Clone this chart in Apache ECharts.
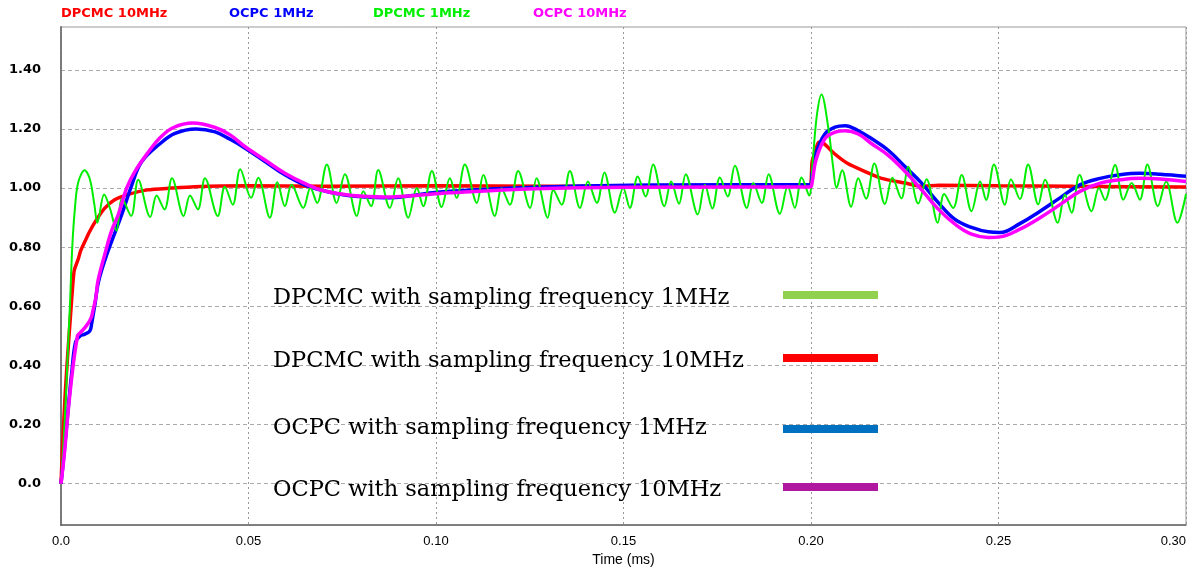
<!DOCTYPE html>
<html><head><meta charset="utf-8">
<script src="https://cdn.jsdelivr.net/npm/echarts@6/dist/echarts.min.js"></script>
<style>html,body{margin:0;padding:0;background:#fff}#c{width:1195px;height:572px}</style>
</head><body><div id="c"></div>
<script>
// ---- tick labels ----
const xTickValues = [0, 0.05, 0.10, 0.15, 0.20, 0.25, 0.30];
const xTickLabels = ['0.0', '0.05', '0.10', '0.15', '0.20', '0.25', '0.30'];
const yTickValues = [0, 0.2, 0.4, 0.6, 0.8, 1.0, 1.2, 1.4];
const yTickLabels = ['0.0', '0.20', '0.40', '0.60', '0.80', '1.00', '1.20', '1.40'];
const xAxisTitle = 'Time (ms)';

// ---- series names ----
const topLegendNames = ['DPCMC 10MHz', 'OCPC 1MHz', 'DPCMC 1MHz', 'OCPC 10MHz'];
const noteLabels = [
  'DPCMC with sampling frequency 1MHz',
  'DPCMC with sampling frequency 10MHz',
  'OCPC with sampling frequency 1MHz',
  'OCPC with sampling frequency 10MHz'
];

// ---- series values: [time (ms), value] ----
const dpcmc10MHz = [
  [0,0],[0.0005,0.15],[0.0011,0.30],[0.0017,0.42],[0.0026,0.58],[0.0035,0.72],[0.0046,0.76],
  [0.0053,0.79],[0.0064,0.82],[0.0075,0.85],[0.0093,0.89],[0.0115,0.93],[0.0142,0.96],
  [0.0178,0.978],[0.0231,0.994],[0.0293,1.0],[0.0355,1.005],[0.0499,1.008],[0.07,1.006],
  [0.10,1.008],[0.13,1.006],[0.16,1.007],[0.1995,1.006],[0.2003,1.09],[0.2013,1.13],
  [0.2020,1.155],[0.2035,1.15],[0.2062,1.117],[0.2098,1.083],[0.2144,1.056],[0.2188,1.033],
  [0.2251,1.017],[0.2295,1.006],[0.2340,1.010],[0.25,1.008],[0.27,1.006],[0.30,1.004]
];
const ocpc1MHz = [
  [0,0],[0.0008,0.10],[0.0021,0.28],[0.0029,0.38],[0.0039,0.48],[0.0051,0.50],[0.0064,0.506],
  [0.0077,0.517],[0.0082,0.544],[0.0091,0.611],[0.0099,0.678],[0.0117,0.756],[0.0139,0.833],
  [0.0162,0.911],[0.0189,1.011],[0.0215,1.089],[0.0264,1.15],[0.0304,1.185],[0.036,1.20],
  [0.0411,1.19],[0.0451,1.165],[0.0491,1.135],[0.0544,1.09],[0.0597,1.045],[0.0651,1.01],
  [0.0704,0.99],[0.0776,0.973],[0.0864,0.967],[0.1011,0.987],[0.1264,1.003],[0.1517,1.01],
  [0.1998,1.012],[0.2003,1.05],[0.2013,1.117],[0.2037,1.183],[0.2064,1.206],[0.2091,1.211],
  [0.2126,1.194],[0.2162,1.167],[0.2206,1.128],[0.2251,1.072],[0.2295,1.017],[0.2340,0.95],
  [0.2384,0.894],[0.2428,0.867],[0.2473,0.852],[0.2504,0.85],[0.2557,0.88],[0.2611,0.922],
  [0.2664,0.967],[0.2717,1.011],[0.2771,1.033],[0.2824,1.045],[0.2877,1.05],[0.2931,1.047],
  [0.30,1.04]
];
const dpcmc1MHz = [
  [0,0],[0.0011,0.24],[0.0019,0.47],[0.0024,0.61],[0.0030,0.80],[0.0037,0.93],[0.0046,1.02],
  [0.0063,1.06],[0.0077,1.03],[0.0089,0.944],[0.0097,0.883],[0.0115,0.978],[0.0131,0.93],
  [0.0148,0.856],[0.0163,0.965],[0.0187,0.906],[0.0206,1.028],[0.0238,0.902],[0.0255,0.975],
  [0.0276,0.928],[0.0296,1.033],[0.0327,0.906],[0.0344,0.975],[0.0365,0.928],[0.0384,1.033],
  [0.0418,0.906],[0.0437,1.005],[0.0458,0.944],[0.0478,1.064],[0.0507,0.967],[0.0526,1.035],
  [0.0557,0.90],[0.0577,1.02],[0.0597,0.939],[0.0615,1.011],[0.0646,0.933],[0.0665,1.0],
  [0.0683,0.95],[0.0709,1.08],[0.0735,0.95],[0.0757,1.047],[0.0789,0.906],[0.0806,0.989],
  [0.0827,0.939],[0.0846,1.061],[0.0877,0.933],[0.0899,1.033],[0.0926,0.90],[0.0949,1.0],
  [0.0966,0.939],[0.0989,1.058],[0.1015,0.936],[0.1037,1.033],[0.1055,0.967],[0.1077,1.08],
  [0.1109,0.95],[0.1126,1.044],[0.1157,0.906],[0.1175,0.999],[0.1197,0.944],[0.1219,1.058],
  [0.1251,0.933],[0.1268,1.033],[0.1298,0.90],[0.1313,0.994],[0.1335,0.944],[0.1357,1.058],
  [0.1384,0.933],[0.1405,1.022],[0.1429,0.95],[0.1449,1.053],[0.1477,0.917],[0.1499,1.0],
  [0.1517,0.933],[0.1538,1.039],[0.1559,0.972],[0.1579,1.08],[0.1609,0.939],[0.1627,1.022],
  [0.1648,0.947],[0.1666,1.047],[0.1698,0.911],[0.1717,1.011],[0.1737,0.931],[0.1757,1.036],
  [0.1778,0.972],[0.1797,1.076],[0.1829,0.933],[0.1846,1.017],[0.1869,0.95],[0.1887,1.047],
  [0.1917,0.913],[0.1938,1.006],[0.1957,0.933],[0.1975,1.036],[0.1995,0.975],[0.2005,1.10],
  [0.2016,1.25],[0.2028,1.317],[0.2046,1.205],[0.2059,1.072],[0.2068,1.0],[0.2083,1.06],
  [0.2107,0.937],[0.2126,1.033],[0.2147,0.964],[0.2169,1.083],[0.2197,0.946],[0.2217,1.035],
  [0.2241,0.965],[0.2259,1.072],[0.2286,0.948],[0.2308,1.03],[0.2338,0.883],[0.2355,0.98],
  [0.2379,0.933],[0.2402,1.044],[0.2428,0.922],[0.2451,1.022],[0.2467,0.96],[0.2488,1.08],
  [0.2517,0.944],[0.2533,1.03],[0.2557,0.963],[0.2579,1.08],[0.2606,0.945],[0.2624,1.028],
  [0.2658,0.883],[0.2677,0.978],[0.2695,0.917],[0.2716,1.044],[0.2748,0.922],[0.2768,1.0],
  [0.2784,0.96],[0.2811,1.078],[0.2833,0.961],[0.2855,1.017],[0.2877,0.961],[0.2897,1.08],
  [0.2925,0.939],[0.2947,1.022],[0.2977,0.883],[0.30,0.98]
];
const ocpc10MHz = [
  [0,0],[0.0008,0.09],[0.0026,0.33],[0.0044,0.50],[0.0051,0.51],[0.0067,0.533],[0.0080,0.56],
  [0.0086,0.59],[0.0093,0.63],[0.0099,0.689],[0.0122,0.80],[0.0135,0.856],[0.0153,0.911],
  [0.0175,1.0],[0.0197,1.056],[0.0233,1.122],[0.0264,1.17],[0.0300,1.205],[0.0352,1.22],
  [0.0411,1.205],[0.0451,1.18],[0.0491,1.14],[0.0544,1.095],[0.0597,1.05],[0.0651,1.015],
  [0.0704,0.99],[0.0776,0.975],[0.0864,0.97],[0.1011,0.982],[0.1264,0.998],[0.1517,1.003],
  [0.1998,1.004],[0.2003,1.02],[0.2013,1.094],[0.2037,1.167],[0.2064,1.189],[0.2091,1.194],
  [0.2126,1.183],[0.2162,1.15],[0.2206,1.111],[0.2251,1.056],[0.2295,0.994],[0.2340,0.928],
  [0.2384,0.878],[0.2428,0.844],[0.2473,0.833],[0.2504,0.835],[0.2557,0.861],[0.2611,0.90],
  [0.2664,0.944],[0.2717,0.989],[0.2771,1.017],[0.2824,1.028],[0.2877,1.033],[0.2931,1.031],
  [0.30,1.022]
];

const seriesColors = ['#ff0000', '#0000ff', '#00ee00', '#ff00ff'];
const noteColors = ['#92d050', '#ff0000', '#0070c0', '#b0189f'];

const chart = echarts.init(document.getElementById('c'), null, {renderer: 'canvas'});

const topLegendX = [61, 229, 373, 533];
const noteTextY = [298, 361, 428, 490];
const noteBarY = [295, 358, 429, 487];

const graphics = [];
topLegendNames.forEach((n, i) => {
  graphics.push({type: 'text', left: topLegendX[i], top: 7, z: 100,
    style: {text: n, fill: seriesColors[i], font: 'bold 13px "DejaVu Sans", sans-serif'}});
});
noteLabels.forEach((n, i) => {
  graphics.push({type: 'text', left: 273, top: noteTextY[i] - 11, z: 100,
    style: {text: n, fill: '#000', font: '22.5px "DejaVu Serif", serif'}});
  graphics.push({type: 'rect', left: 783, top: noteBarY[i] - 4, z: 100,
    shape: {width: 95, height: 8}, style: {fill: noteColors[i]}});
});

const mkSeries = (name, data, color, width, smooth, z) => ({
  name, type: 'line', data, showSymbol: false, smooth, z,
  lineStyle: {color, width}, itemStyle: {color}, animation: false
});

chart.setOption({
  animation: false,
  backgroundColor: '#fff',
  grid: {left: 61, right: 9, top: 27, bottom: 40, show: true, borderColor: '#999', borderWidth: 1},
  xAxis: {
    type: 'value', min: 0, max: 0.30, interval: 0.05,
    name: xAxisTitle, nameLocation: 'middle', nameGap: 20,
    nameTextStyle: {fontFamily: '"Liberation Sans", Arial, sans-serif', fontSize: 14, color: '#000'},
    axisLine: {show: true, onZero: false, lineStyle: {color: '#666', width: 1.5}},
    axisTick: {show: false},
    axisLabel: {
      margin: 10, color: '#000', fontFamily: '"Liberation Sans", Arial, sans-serif', fontSize: 13,
      alignMaxLabel: 'right',
      formatter: v => xTickLabels[Math.round(v / 0.05)]
    },
    splitLine: {show: true, lineStyle: {color: '#999', type: [2, 3], width: 1}}
  },
  yAxis: {
    type: 'value', min: -0.14, max: 1.545,
    axisLine: {show: true, onZero: false, lineStyle: {color: '#777', width: 2, type: [1, 1]}},
    axisTick: {show: false, customValues: yTickValues},
    axisLabel: {
      customValues: yTickValues, margin: 20, color: '#000',
      fontFamily: '"DejaVu Sans", sans-serif', fontWeight: 'bold', fontSize: 13,
      formatter: v => yTickLabels[Math.round(v / 0.2)]
    },
    splitLine: {show: true, lineStyle: {color: '#aaa', type: [4, 3], width: 1}}
  },
  series: [
    mkSeries(topLegendNames[0], dpcmc10MHz, seriesColors[0], 3.5, 0.2, 2),
    mkSeries(topLegendNames[1], ocpc1MHz, seriesColors[1], 3.5, 0.4, 3),
    mkSeries(topLegendNames[2], dpcmc1MHz, seriesColors[2], 2, 0.35, 4),
    mkSeries(topLegendNames[3], ocpc10MHz, seriesColors[3], 3.5, 0.4, 5)
  ],
  graphic: graphics
});
</script></body></html>
